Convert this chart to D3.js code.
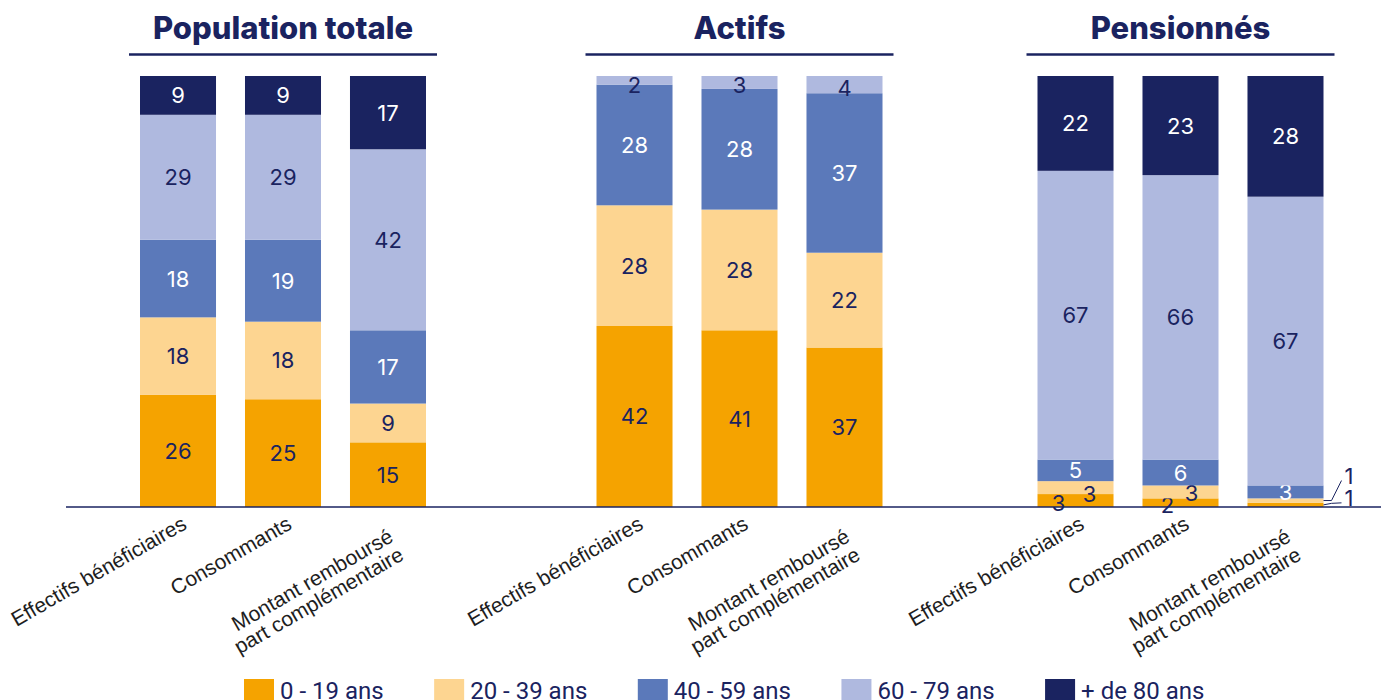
<!DOCTYPE html>
<html lang="fr">
<head>
<meta charset="UTF-8">
<title>Répartition par âge</title>
<script src="https://d3js.org/d3.v7.min.js"></script>
<style>
    body { margin: 0; background: #fff; }
    svg { display: block; }
    .title { font-family: Inter, sans-serif; font-weight: 800; font-size: 31px; fill: #1a2360; }
    .value { font-family: Inter, sans-serif; font-size: 22px; }
    .xlabel { font-family: "Liberation Sans", Arial, sans-serif; font-size: 21px; fill: #1e1e1e; }
    .legend text { font-family: Roboto, sans-serif; font-size: 24px; fill: #1a2360; }
</style>
</head>
<body>
<svg id="chart" width="1381" height="700"></svg>
<script>
const groups = ["Population totale", "Actifs", "Pensionnés"];
const categories = ["Effectifs bénéficiaires", "Consommants", "Montant remboursé|part complémentaire"];
const series = ["0 - 19 ans", "20 - 39 ans", "40 - 59 ans", "60 - 79 ans", "+ de 80 ans"];

// one row per category, one value per series (%)
const populationTotale = [[26, 18, 18, 29, 9], [25, 18, 19, 29, 9], [15, 9, 17, 42, 17]];
const actifs = [[42, 28, 28, 2, 0], [41, 28, 28, 3, 0], [37, 22, 37, 4, 0]];
const pensionnes = [[3, 3, 5, 67, 22], [2, 3, 6, 66, 23], [1, 1, 3, 67, 28]];
const groupValues = [populationTotale, actifs, pensionnes];

const colors = ["#f5a300", "#fdd591", "#5b79ba", "#afb9df", "#1a2360"];
const labelColors = ["#1a2360", "#1a2360", "#ffffff", "#1a2360", "#ffffff"];

// layout
const panelCenters = [283, 739.5, 1180.5];
const navy = "#1a2360";

// per-label nudges for the tiny segments: key = group-category-series
const nudges = {
    "1-0-3": { dx: 0, dy: 5 }, "1-1-3": { dx: 0, dy: 3 }, "1-2-3": { dx: 0, dy: 3 },
    "2-0-0": { dx: -17, dy: 2 }, "2-0-1": { dx: 14, dy: 6 },
    "2-1-0": { dx: -13, dy: 2 }, "2-1-1": { dx: 11, dy: 1 },
    "2-2-0": { out: true, dy: -7 }, "2-2-1": { out: true, dy: -25 }
};

const svg = d3.select("#chart");

const y = d3.scaleLinear().domain([0, 100]).range([507, 76]);
const x = d3.scaleBand().domain(categories).range([-143, 143]).paddingInner(0.276);

groups.forEach((g, gi) => {
    const panel = svg.append("g").attr("transform", `translate(${panelCenters[gi]},0)`);

    panel.append("text").attr("class", "title")
        .attr("x", 0).attr("y", 39).attr("text-anchor", "middle").text(g);
    panel.append("line")
        .attr("x1", -154).attr("x2", 154).attr("y1", 54.5).attr("y2", 54.5)
        .attr("stroke", navy).attr("stroke-width", 2.5);

    categories.forEach((c, ci) => {
        const stacked = d3.stack().keys(d3.range(series.length))([groupValues[gi][ci]]);
        const bx = x(c), bw = x.bandwidth();
        stacked.forEach((s, si) => {
            const [y0, y1] = s[0];
            const v = y1 - y0;
            if (v <= 0) return;
            panel.append("rect")
                .attr("x", bx).attr("width", bw)
                .attr("y", y(y1)).attr("height", y(y0) - y(y1))
                .attr("fill", colors[si]);

            const n = nudges[`${gi}-${ci}-${si}`] || { dx: 0, dy: 0 };
            const my = (y(y0) + y(y1)) / 2;
            if (n.out) {
                const lx = bx + bw + 21, ly = my + n.dy;
                panel.append("polyline")
                    .attr("points", [[bx + bw, my], [bx + bw + 8, my - (n.dy < -10 ? 0 : 1.5)], [lx - 3, ly + 5]].map(p => p.join(",")).join(" "))
                    .attr("fill", "none").attr("stroke", navy).attr("stroke-width", 1);
                panel.append("text").attr("class", "value")
                    .attr("x", lx).attr("y", ly)
                    .attr("dominant-baseline", "central")
                    .attr("fill", navy).text(v);
            } else {
                panel.append("text").attr("class", "value")
                    .attr("x", bx + bw / 2 + n.dx).attr("y", my + n.dy)
                    .attr("text-anchor", "middle").attr("dominant-baseline", "central")
                    .attr("fill", labelColors[si]).text(v);
            }
        });

        const lines = c.split("|");
        const multi = lines.length > 1;
        const t = panel.append("text").attr("class", "xlabel")
            .attr("text-anchor", "end")
            .attr("transform", `translate(${bx + bw / 2 + (multi ? 2 : 10)},${y(0) + (multi ? 25.5 : 21)}) rotate(-30)`);
        lines.forEach((l, li) => {
            t.append("tspan").attr("x", 0)
                .attr("dy", li === 0 ? (multi ? "0.45em" : 0) : "1.0em")
                .text(l);
        });
    });
});

// baseline
svg.append("line")
    .attr("x1", 66).attr("x2", 1381).attr("y1", y(0)).attr("y2", y(0))
    .attr("stroke", navy).attr("stroke-width", 1.5);

// legend
const legend = svg.append("g").attr("class", "legend");
let lx = 244;
series.forEach((s, i) => {
    const item = legend.append("g").attr("transform", `translate(${lx},0)`);
    item.append("rect").attr("x", 0).attr("y", 679).attr("width", 30).attr("height", 24).attr("fill", colors[i]);
    const txt = item.append("text").attr("x", 36).attr("y", 699).text(s);
    lx += 36 + txt.node().getComputedTextLength() + 50.5;
});
</script>
</body>
</html>
